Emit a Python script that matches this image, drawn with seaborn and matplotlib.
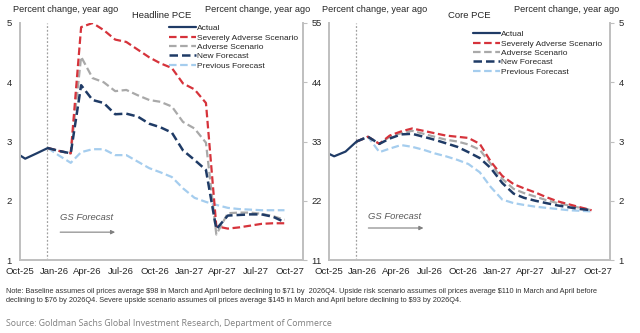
import matplotlib
matplotlib.use("Agg")
import matplotlib.pyplot as plt
import matplotlib.dates as mdates
import matplotlib.transforms as mtransforms
import seaborn as sns
import pandas as pd

# ---------------- data ----------------
actual_months = ["2025-09", "2025-10", "2025-11", "2025-12"]
fc_months = ["2025-12", "2026-01", "2026-02", "2026-03", "2026-04", "2026-05", "2026-06",
             "2026-07", "2026-08", "2026-09", "2026-10", "2026-11", "2026-12", "2027-01",
             "2027-02", "2027-03", "2027-04", "2027-05", "2027-06", "2027-07", "2027-08",
             "2027-09"]

head_actual = [2.83, 2.71, 2.80, 2.89]
head_severe = [2.89, 2.84, 2.80, 4.93, 5.00, 4.88, 4.72, 4.68, 4.55, 4.42, 4.32, 4.24,
               3.98, 3.88, 3.65, 1.57, 1.53, 1.55, 1.58, 1.61, 1.62, 1.62]
head_adverse = [2.89, 2.84, 2.80, 4.43, 4.07, 4.00, 3.85, 3.87, 3.78, 3.70, 3.67, 3.59,
                3.33, 3.22, 2.98, 1.43, 1.79, 1.80, 1.80, 1.78, 1.74, 1.68]
head_new = [2.89, 2.84, 2.80, 3.95, 3.70, 3.65, 3.46, 3.47, 3.42, 3.30, 3.24, 3.15,
            2.85, 2.69, 2.52, 1.52, 1.75, 1.76, 1.77, 1.77, 1.73, 1.64]
head_prev = [2.89, 2.76, 2.64, 2.82, 2.87, 2.87, 2.77, 2.77, 2.66, 2.55, 2.48, 2.40,
             2.21, 2.05, 1.98, 1.93, 1.88, 1.86, 1.85, 1.84, 1.84, 1.84]

core_actual = [2.84, 2.75, 2.83, 3.00]
core_severe = [3.00, 3.08, 2.96, 3.10, 3.17, 3.22, 3.18, 3.14, 3.10, 3.08, 3.06, 2.96,
               2.66, 2.42, 2.28, 2.21, 2.14, 2.06, 1.99, 1.94, 1.89, 1.84]
core_adverse = [3.00, 3.08, 2.96, 3.08, 3.14, 3.18, 3.13, 3.08, 3.03, 3.00, 2.95, 2.86,
                2.62, 2.37, 2.20, 2.13, 2.07, 2.01, 1.96, 1.92, 1.88, 1.84]
core_new = [3.00, 3.08, 2.96, 3.05, 3.12, 3.13, 3.08, 3.03, 2.97, 2.91, 2.82, 2.72,
            2.55, 2.30, 2.12, 2.05, 2.00, 1.96, 1.92, 1.89, 1.86, 1.84]
core_prev = [3.00, 3.08, 2.82, 2.88, 2.94, 2.91, 2.86, 2.80, 2.75, 2.69, 2.62, 2.48,
             2.23, 2.02, 1.96, 1.93, 1.90, 1.88, 1.86, 1.84, 1.83, 1.82]

series_labels = ["Actual", "Severely Adverse Scenario", "Adverse Scenario",
                 "New Forecast", "Previous Forecast"]
panel_titles = ["Headline PCE", "Core PCE"]
y_ticks = [1, 2, 3, 4, 5]
x_tick_months = ["2025-10", "2026-01", "2026-04", "2026-07", "2026-10", "2027-01",
                 "2027-04", "2027-07", "2027-10"]
forecast_start = "2025-12-14"

note = ("Note: Baseline assumes oil prices average \\$98 in March and April before declining to \\$71 by  2026Q4. "
        "Upside risk scenario assumes oil prices average \\$110 in March and April before\n"
        "declining to \\$76 by 2026Q4. Severe upside scenario assumes oil prices average \\$145 in March "
        "and April before declining to \\$93 by 2026Q4.")
source = "Source: Goldman Sachs Global Investment Research, Department of Commerce"

# ---------------- style ----------------
sns.set_theme(style="white")
plt.rcParams["font.family"] = ["Liberation Sans", "DejaVu Sans"]

NAVY = "#1F3B66"
RED = "#D6333B"
GRAY = "#A9A9A9"
LBLUE = "#A5CDEE"
AXC = "#BFBFBF"
TXT = "#262626"


def mid_month(ms):
    return pd.to_datetime([m + "-15" for m in ms])


fig = plt.figure(figsize=(6.4, 3.33), dpi=100)
ax1 = fig.add_axes([20 / 640, 1 - 260 / 333, 283 / 640, 237 / 333])
ax2 = fig.add_axes([329 / 640, 1 - 260 / 333, 281 / 640, 237 / 333])

panels = [
    (ax1, head_actual, head_severe, head_adverse, head_new, head_prev),
    (ax2, core_actual, core_severe, core_adverse, core_new, core_prev),
]
legend_anchor = [(1.0, 1.015), (0.99, 0.99)]
gs_text = [(0.142, 1.71), (0.14, 1.74)]
gs_arrow_y = [1.47, 1.54]

dash = (3.4, 1.6)
for i, (ax, act, sev, adv, new, prev) in enumerate(panels):
    xa = mid_month(actual_months)
    xf = mid_month(fc_months)
    handles = {}
    sns.lineplot(x=xf, y=prev, ax=ax, color=LBLUE, lw=1.6)
    ax.lines[-1].set_dashes(dash); handles["Previous Forecast"] = ax.lines[-1]
    sns.lineplot(x=xf, y=adv, ax=ax, color=GRAY, lw=1.6)
    ax.lines[-1].set_dashes(dash); handles["Adverse Scenario"] = ax.lines[-1]
    sns.lineplot(x=xf, y=sev, ax=ax, color=RED, lw=1.6)
    ax.lines[-1].set_dashes(dash); handles["Severely Adverse Scenario"] = ax.lines[-1]
    sns.lineplot(x=xf, y=new, ax=ax, color=NAVY, lw=1.8)
    ax.lines[-1].set_dashes(dash); handles["New Forecast"] = ax.lines[-1]
    sns.lineplot(x=xa, y=act, ax=ax, color=NAVY, lw=1.6)
    handles["Actual"] = ax.lines[-1]

    ax.axvline(pd.Timestamp(forecast_start), color="#A0A0A0", lw=0.9, ls=(0, (1.5, 1.5)), zorder=0)

    ax.set_xlim(pd.Timestamp("2025-10-01"), pd.Timestamp("2027-11-04"))
    ax.set_ylim(1, 5)
    ax.set_yticks(y_ticks)
    ax.set_xticks(pd.to_datetime([m + "-01" for m in x_tick_months]))
    ax.xaxis.set_major_formatter(mdates.DateFormatter("%b-%y"))
    ax.set_xlabel(""); ax.set_ylabel("")
    ax.tick_params(axis="both", labelsize=6.8, colors=TXT, length=3, width=0.8, pad=2)
    ax.tick_params(axis="x", direction="inout", length=4, color=AXC, pad=3)
    ax.tick_params(axis="y", direction="out", color=AXC, labelright=True, right=True, pad=3)
    for s in ["left", "right", "bottom"]:
        ax.spines[s].set_color(AXC)
        ax.spines[s].set_linewidth(1.4)
    ax.spines["top"].set_visible(False)

    leg = ax.legend([handles[l] for l in series_labels], series_labels,
                    loc="upper right", bbox_to_anchor=legend_anchor[i],
                    frameon=False, fontsize=6.0, handlelength=3.3, handletextpad=0.1,
                    labelspacing=0.18, borderaxespad=0.2)
    for t in leg.get_texts():
        t.set_color(TXT)

    ax.text(0.5, 1.012, panel_titles[i], transform=ax.transAxes, ha="center", va="bottom",
            fontsize=6.8, color=TXT)

    # GS Forecast annotation
    tx, ty = gs_text[i]
    ay = gs_arrow_y[i]
    trans = mtransforms.blended_transform_factory(ax.transAxes, ax.transData)
    ax.text(tx, ty, "GS Forecast", transform=trans,
            fontsize=6.8, style="italic", color="#595959", ha="left", va="center")
    ax.annotate("", xy=(0.336, ay), xytext=(tx, ay),
                xycoords=trans, textcoords=trans,
                arrowprops=dict(arrowstyle="-|>", color="#808080", lw=0.8,
                                mutation_scale=6, shrinkA=0, shrinkB=0))

# header texts
for xpos, ha in [(13, "left"), (310, "right"), (322, "left"), (619, "right")]:
    fig.text(xpos / 640, 1 - 10 / 333, "Percent change, year ago", fontsize=6.6,
             color=TXT, va="center", ha=ha)

fig.text(6 / 640, 1 - 296 / 333, note, fontsize=5.3, color="#333333", va="center", ha="left",
         linespacing=1.5)
fig.text(6 / 640, 1 - 323 / 333, source, fontsize=6.3, color="#7F7F7F", va="center", ha="left",
         family=["Open Sans", "DejaVu Sans"])

fig.savefig("out.png", dpi=100)
